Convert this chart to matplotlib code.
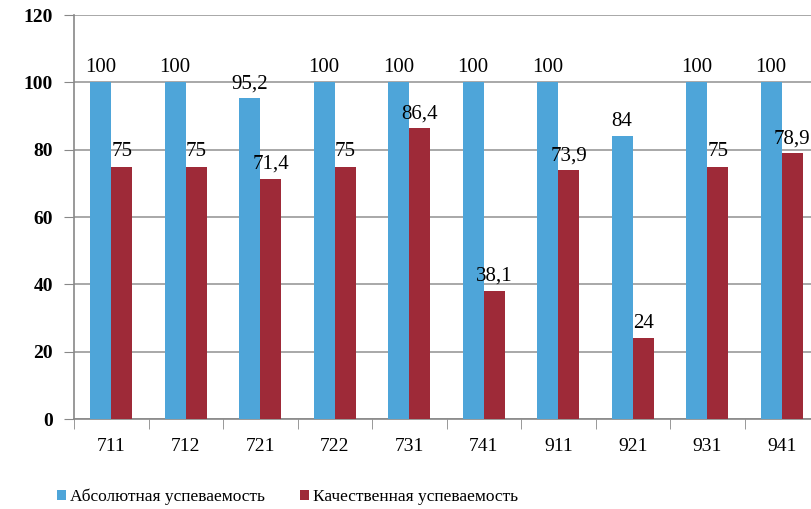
import matplotlib.pyplot as plt
import numpy as np

# данные
classes = ['711', '712', '721', '722', '731', '741', '911', '921', '931', '941']
absolut = [100, 100, 95.2, 100, 100, 100, 100, 84, 100, 100]
kachestv = [75, 75, 71.4, 75, 86.4, 38.1, 73.9, 24, 75, 78.9]
legend_names = ['Абсолютная успеваемость', 'Качественная успеваемость']

blue = '#4ea5d9'
red = '#9e2a38'
plt.rcParams['font.family'] = ['Liberation Serif', 'DejaVu Serif']

fig = plt.figure(figsize=(8.11, 5.09), dpi=100)
ax = fig.add_axes([74 / 811, 1 - 419 / 509, 745 / 811, 404 / 509])

x = np.arange(len(classes))
w = 0.285
b1 = ax.bar(x - w / 2, absolut, w, color=blue, zorder=3, label=legend_names[0])
b2 = ax.bar(x + w / 2, kachestv, w, color=red, zorder=3, label=legend_names[1])

def fmt(v):
    return ('%g' % v).replace('.', ',')

for bars, vals in ((b1, absolut), (b2, kachestv)):
    for r, v in zip(bars, vals):
        ax.text(r.get_x() + r.get_width() / 2, v + 1.5, fmt(v), ha='center', va='bottom',
                fontsize=15, zorder=4, clip_on=False)

ax.set_ylim(0, 120)
ax.set_xlim(-0.5, len(classes) - 0.5)
ax.set_yticks(range(0, 121, 20))
ax.tick_params(axis='y', labelsize=14, length=7, color='#888888', pad=8)
for t in ax.get_yticklabels():
    t.set_fontweight('bold')
ax.set_xticks(x)
ax.set_xticklabels(classes, fontsize=14)
ax.tick_params(axis='x', length=0, pad=14)
ax.set_xticks(np.arange(-0.5, len(classes), 1), minor=True)
ax.tick_params(axis='x', which='minor', length=7, color='#888888')
ax.yaxis.grid(True, color='#999999', linewidth=1.2, zorder=0)

for s in ['top', 'right']:
    ax.spines[s].set_visible(False)
for s in ['left', 'bottom']:
    ax.spines[s].set_color('#888888')
    ax.spines[s].set_linewidth(1.2)

fig.legend(loc='center left', bbox_to_anchor=(50 / 811, 1 - 497 / 509), ncol=2,
           frameon=False, prop={'family': ['Liberation Serif', 'DejaVu Serif'], 'size': 12.5},
           handlelength=0.55, handleheight=0.55,
           handletextpad=0.2, columnspacing=2.0, borderaxespad=0)

fig.savefig('out.png', dpi=100)
